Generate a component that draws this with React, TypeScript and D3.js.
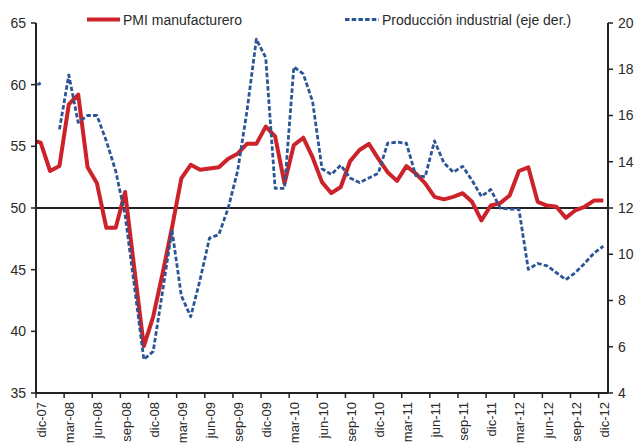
import React from 'react';
import * as d3 from 'd3';

const months = [
  'dic-07', 'ene-08', 'feb-08', 'mar-08', 'abr-08', 'may-08', 'jun-08', 'jul-08', 'ago-08', 'sep-08', 'oct-08', 'nov-08',
  'dic-08', 'ene-09', 'feb-09', 'mar-09', 'abr-09', 'may-09', 'jun-09', 'jul-09', 'ago-09', 'sep-09', 'oct-09', 'nov-09',
  'dic-09', 'ene-10', 'feb-10', 'mar-10', 'abr-10', 'may-10', 'jun-10', 'jul-10', 'ago-10', 'sep-10', 'oct-10', 'nov-10',
  'dic-10', 'ene-11', 'feb-11', 'mar-11', 'abr-11', 'may-11', 'jun-11', 'jul-11', 'ago-11', 'sep-11', 'oct-11', 'nov-11',
  'dic-11', 'ene-12', 'feb-12', 'mar-12', 'abr-12', 'may-12', 'jun-12', 'jul-12', 'ago-12', 'sep-12', 'oct-12', 'nov-12',
  'dic-12',
];

// PMI manufacturero (left axis)
const pmiPrev = 55.5; // nov-07, partly visible at the left edge
const pmi = [
  55.3, 53.0, 53.4, 58.4, 59.2, 53.3, 52.0, 48.4, 48.4, 51.3, 45.0, 38.8,
  41.2, 44.7, 48.4, 52.4, 53.5, 53.1, 53.2, 53.3, 54.0, 54.4, 55.2, 55.2,
  56.6, 55.8, 52.0, 55.1, 55.7, 54.1, 52.1, 51.2, 51.7, 53.8, 54.7, 55.2,
  54.0, 52.9, 52.2, 53.4, 52.8, 52.0, 50.9, 50.7, 50.9, 51.2, 50.5, 49.0,
  50.2, 50.4, 51.0, 53.0, 53.3, 50.5, 50.2, 50.1, 49.2, 49.8, 50.1, 50.6,
  50.6,
];

// Producción industrial (right axis)
const prodPrev = 17.2; // nov-07, partly visible at the left edge
const prod: (number | null)[] = [
  17.4, null, 15.4, 17.75, 15.7, 16.0, 16.0, 14.9, 13.6, 11.7, 8.6, 5.45,
  5.8, 8.4, 11.05, 8.2, 7.3, 8.9, 10.7, 10.85, 12.0, 13.6, 16.2, 19.3,
  18.5, 12.85, 12.85, 18.1, 17.8, 16.6, 13.7, 13.45, 13.85, 13.3, 13.1, 13.3,
  13.5, 14.8, 14.85, 14.8, 13.4, 13.35, 14.9, 13.95, 13.55, 13.8, 13.2, 12.5,
  12.8, 12.0, 11.95, 11.95, 9.35, 9.6, 9.5, 9.2, 8.9, 9.2, 9.6, 10.05,
  10.35,
];

const leftTicks = [35, 40, 45, 50, 55, 60, 65];
const rightTicks = [4, 6, 8, 10, 12, 14, 16, 18, 20];
const seriesNames = ['PMI manufacturero', 'Producción industrial (eje der.)'];

type Pt = { i: number; v: number | null };

export default function App() {
  const W = 634;
  const H = 444;
  const x0 = 36;
  const x1 = 608;
  const yTop = 23;
  const yBot = 393;

  const x = d3
    .scaleBand<number>()
    .domain(d3.range(months.length))
    .range([x0, x1])
    .paddingInner(0)
    .paddingOuter(0);
  const bw = x.bandwidth();
  const cx = (i: number) => (x(0) as number) + i * bw + bw / 2;

  const yL = d3.scaleLinear().domain([35, 65]).range([yBot, yTop]);
  const yR = d3.scaleLinear().domain([4, 20]).range([yBot, yTop]);

  const pmiPts: Pt[] = [{ i: -1, v: pmiPrev }, ...pmi.map((v, i) => ({ i, v }))];
  const prodPts: Pt[] = [{ i: -1, v: prodPrev }, ...prod.map((v, i) => ({ i, v }))];

  const lineL = d3
    .line<Pt>()
    .defined((d) => d.v != null)
    .x((d) => cx(d.i))
    .y((d) => yL(d.v as number));
  const lineR = d3
    .line<Pt>()
    .defined((d) => d.v != null)
    .x((d) => cx(d.i))
    .y((d) => yR(d.v as number));

  const red = '#CC2229';
  const blue = '#2C5596';
  const ink = '#222';
  const txt = '#2a2a2a';
  const font = "'Liberation Sans', Arial, sans-serif";

  const xTickIdx = d3.range(0, months.length, 3);

  return (
    <svg
      width={W}
      height={H}
      style={{ position: 'absolute', left: 0, top: 0, display: 'block', background: '#fff' }}
      fontFamily={font}
    >
      <defs>
        <clipPath id="plot">
          <rect x={x0} y={0} width={x1 - x0} height={H} />
        </clipPath>
      </defs>

      {/* reference line at 50 */}
      <line x1={x0} x2={x1} y1={yL(50)} y2={yL(50)} stroke={ink} strokeWidth={2.2} />

      <g clipPath="url(#plot)">
        <path d={lineL(pmiPts) || ''} fill="none" stroke={red} strokeWidth={4} strokeLinejoin="round" />
        <path
          d={lineR(prodPts) || ''}
          fill="none"
          stroke={blue}
          strokeWidth={2.8}
          strokeDasharray="4.5,2.2"
          strokeLinejoin="round"
        />
      </g>

      {/* left axis */}
      <line x1={x0} x2={x0} y1={yTop} y2={yBot} stroke={ink} strokeWidth={2} />
      {leftTicks.map((t) => (
        <g key={'l' + t}>
          <line x1={x0 - 5} x2={x0} y1={yL(t)} y2={yL(t)} stroke={ink} strokeWidth={1.5} />
          <text x={x0 - 10} y={yL(t)} dy="0.35em" textAnchor="end" fontSize={14} fill={txt}>
            {t}
          </text>
        </g>
      ))}

      {/* right axis */}
      <line x1={x1} x2={x1} y1={yTop} y2={yBot} stroke={ink} strokeWidth={2} />
      {rightTicks.map((t) => (
        <g key={'r' + t}>
          <line x1={x1} x2={x1 + 5} y1={yR(t)} y2={yR(t)} stroke={ink} strokeWidth={1.5} />
          <text x={x1 + 10} y={yR(t)} dy="0.35em" textAnchor="start" fontSize={14} fill={txt}>
            {t}
          </text>
        </g>
      ))}

      {/* x axis */}
      <line x1={x0} x2={x1} y1={yBot} y2={yBot} stroke={ink} strokeWidth={2} />
      {xTickIdx.map((i) => (
        <g key={'x' + i}>
          <line x1={x(i) as number} x2={x(i) as number} y1={yBot} y2={yBot + 5} stroke={ink} strokeWidth={1.5} />
          <text
            x={cx(i) + 1}
            y={yBot + 9}
            dy="0.35em"
            textAnchor="end"
            fontSize={13}
            fill={txt}
            transform={`rotate(-90, ${cx(i) + 1}, ${yBot + 9})`}
          >
            {months[i]}
          </text>
        </g>
      ))}

      {/* legend */}
      <line x1={87} x2={120} y1={19.5} y2={19.5} stroke={red} strokeWidth={4} />
      <text x={123} y={24.5} fontSize={14} fill={txt}>
        {seriesNames[0]}
      </text>
      <line x1={345} x2={379} y1={19.5} y2={19.5} stroke={blue} strokeWidth={2.8} strokeDasharray="4.5,2.2" />
      <text x={382} y={24.5} fontSize={14} fill={txt}>
        {seriesNames[1]}
      </text>
    </svg>
  );
}
